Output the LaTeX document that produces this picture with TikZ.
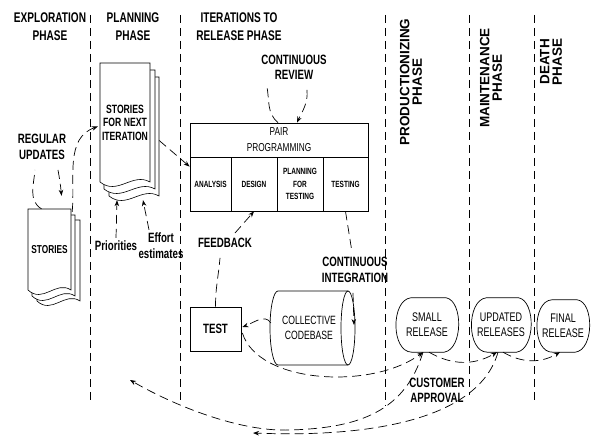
\documentclass[tikz,border=0pt]{standalone}
\usepackage{fontspec}
\setmainfont{Liberation Sans}[FakeStretch=0.72]
\newfontfamily\wideface{Liberation Sans}
\usetikzlibrary{calc,arrows.meta}
\def\docsheet(#1,#2)(#3,#4){\draw[fill=white,line width=0.6pt] (#1,#2) -- (#1+#3,#2) -- (#1+#3,#2-#4) .. controls (#1+0.65*#3,#2-#4+10) and (#1+0.35*#3,#2-#4-14) .. (#1,#2-#4) -- cycle;}
\def\relblob(#1){\draw[line width=0.7pt] ($(#1.north west)+(14,0)$) -- ($(#1.north east)+(-11,0)$) .. controls ($(#1.east)+(6,24)$) and ($(#1.east)+(6,-24)$) .. ($(#1.south east)+(-13,0)$) -- ($(#1.south west)+(15,0)$) .. controls ($(#1.west)+(-6,-27)$) and ($(#1.west)+(-6,25)$) .. ($(#1.north west)+(14,0)$);}

\begin{document}
\begin{tikzpicture}[x=1pt,y=1pt,>={Stealth[length=6pt,width=4.5pt]},
	hdr/.style={font=\bfseries\fontsize{14}{18}\selectfont,align=center,inner sep=0pt},
	vhdr/.style={font=\wideface\bfseries\fontsize{13.5}{12.5}\selectfont,align=center,inner sep=0pt,rotate=90},
	lbl/.style={font=\bfseries\fontsize{13.5}{16}\selectfont,align=center,inner sep=0pt},
	cell/.style={draw,line width=0.8pt,inner sep=0pt,align=center,font=\bfseries\fontsize{9}{12.5}\selectfont},
	rel/.style={inner sep=0pt,align=center,font=\fontsize{12.5}{15}\selectfont,minimum width=60pt,minimum height=54pt},
	conn/.style={line width=0.7pt,dash pattern=on 9pt off 5pt},
	phase/.style={line width=0.6pt,dash pattern=on 8pt off 5pt}]
	%%%%% START %%%%%
	\useasboundingbox (0,0) rectangle (592,436);
	\def\ytop{421}
	
	% phases
	\draw[phase] (90,\ytop) -- (90,33);
	\draw[phase] (180,\ytop) -- (180,34);
	\draw[phase] (385,\ytop) -- (385,30);
	\draw[phase] (469,\ytop) -- (469,41);
	\draw[phase] (534,\ytop) -- (534,36);
	
	\node[hdr] (expl) at (50,409) {EXPLORATION\\PHASE};
	\node[hdr] (plan) at (133,409) {PLANNING\\PHASE};
	\node[hdr] (iter) at (239,409) {ITERATIONS TO\\RELEASE PHASE};
	\node[vhdr] (prod) at (411,354) {PRODUCTIONIZING\\PHASE};
	\node[vhdr] (maint) at (491,358) {MAINTENANCE\\PHASE};
	\node[vhdr] (death) at (551,374) {DEATH\\PHASE};
	
	% stories
	\docsheet(37,216)(43,81)
	\docsheet(32,221)(43,81)
	\docsheet(28,227)(43,81)
	\node[font=\bfseries\fontsize{11.5}{13}\selectfont,minimum width=43pt,minimum height=81pt,inner sep=0pt] (sty) at (49.5,186.5) {STORIES};
	
	\docsheet(109,359)(50,119)
	\docsheet(104,366)(51,119)
	\docsheet(100,373)(50,119)
	\node[font=\bfseries\fontsize{12}{13.5}\selectfont,align=center,minimum width=50pt,minimum height=119pt,inner sep=0pt] (sfni) at (125,313.5) {STORIES\\FOR NEXT\\ITERATION};
	
	\node[lbl] (regupd) at (42,289) {REGULAR\\UPDATES};
	\node[lbl] (prio) at (116,190) {Priorities};
	\node[lbl] (effort) at (161,190) {Effort\\estimates};
	
	\draw[conn] ($(sty.north)+(-8,0)$) to[out=150,in=-95] ($(regupd.south)+(-7,-10)$);
	\draw[conn,->] ($(regupd.south)+(16,-10)$) to[out=-80,in=95] ($(sty.north)+(12,13)$);
	\draw[conn,->] ($(sty.north east)+(1,-3)$) to[out=85,in=200] ($(sfni.west)+(-2,-4)$);
	\draw[conn,->] ($(prio.north)+(0,3)$) -- ($(sfni.south)+(-8,-18)$);
	\draw[conn,->] ($(effort.north)+(-12,3)$) -- ($(sfni.south)+(18,-18)$);
	
	% iterations
	\node[cell,font=\fontsize{11.5}{16}\selectfont,minimum width=178pt,minimum height=34pt] (pp) at (279,296) {PAIR\\PROGRAMMING};
	\node[cell,minimum width=41pt,minimum height=54pt] (ana) at (210.5,252) {ANALYSIS};
	\node[cell,minimum width=46pt,minimum height=54pt] (des) at (254,252) {DESIGN};
	\node[cell,minimum width=46pt,minimum height=54pt] (pft) at (300,252) {PLANNING\\FOR\\TESTING};
	\node[cell,minimum width=45pt,minimum height=54pt] (tst) at (345.5,252) {TESTING};
	
	\draw[conn,->] ($(sfni.east)+(9,-18)$) -- ($(ana.north west)+(0,-10)$);
	
	\node[lbl,font=\bfseries\fontsize{13.5}{15}\selectfont] (crev) at (294,368.5) {CONTINUOUS\\REVIEW};
	\draw[conn] ($(pp.north)+(-1,0)$) to[out=140,in=-80] ($(crev.south)+(-27,-7)$);
	\draw[conn,->] ($(crev.south)+(13,-10)$) to[out=-85,in=65] ($(pp.north)+(18,0)$);
	
	\node[draw,line width=0.8pt,font=\bfseries\fontsize{13.5}{16}\selectfont,minimum width=51pt,minimum height=44pt,inner sep=0pt] (test) at (215.5,107) {TEST};
	\node[lbl] (fb) at (225,193) {FEEDBACK};
	\draw[conn] (test.north) to[out=90,in=-95] ($(fb.south)+(-5,-10)$);
	\draw[conn,->] ($(fb.north)+(10,5)$) -- (des.south);
	
	\draw[line width=0.7pt] (348,145) -- (278,145) arc[start angle=90,end angle=270,x radius=8,y radius=37] -- (348,71);
	\draw[line width=0.7pt] (348,108) ellipse[x radius=7,y radius=37];
	\node[font=\fontsize{12}{15}\selectfont,align=center,inner sep=0pt,minimum width=80pt,minimum height=74pt] (cb) at (309,108) {COLLECTIVE\\CODEBASE};
	\coordinate (cbend) at (354,111);
	
	\node[lbl] (ci) at (355,166) {CONTINUOUS\\INTEGRATION};
	\draw[conn] (tst.south) -- ($(ci.north)+(-3,5)$);
	\draw[conn,->] ($(ci.south)+(-2,-10)$) -- (cbend);
	\draw[conn,->] ($(cb.west)+(2,5)$) to[out=120,in=20] ($(test.east)+(1,2)$);
	
	% releases
	\node[rel] (sr) at (427,111) {SMALL\\RELEASE};
	\node[rel,minimum width=57pt] (ur) at (501,111) {UPDATED\\RELEASES};
	\node[rel,minimum width=50pt,minimum height=52pt] (fr) at (563,110) {FINAL\\RELEASE};
	\relblob(sr)
	\relblob(ur)
	\relblob(fr)
	
	\draw[conn,->] ($(test.east)+(1,-4)$) .. controls (258,52) and (372,46) .. ($(sr.south)+(-4,0)$);
	\draw[conn,->] ($(sr.south)+(2,0)$) to[out=-30,in=-150] ($(ur.south)+(-4,0)$);
	\draw[conn,->] ($(ur.south)+(2,0)$) to[out=-30,in=-150] ($(fr.south)+(-3,0)$);
	
	\node[lbl,font=\bfseries\fontsize{13.5}{15}\selectfont] (cust) at (437,46) {CUSTOMER\\APPROVAL};
	
	\coordinate (plantip) at (130,56);
	\coordinate (plantip2) at (253,3);
	\draw[conn,->] ($(sr.south)+(-4,0)$) .. controls (405,25) and (360,8) .. (290,6) .. controls (240,4) and (175,30) .. (plantip);
	\draw[conn,->] ($(ur.south)+(-3,0)$) .. controls (480,20) and (380,-2) .. (plantip2);
	%%%%% END %%%%%
\end{tikzpicture}
\end{document}
